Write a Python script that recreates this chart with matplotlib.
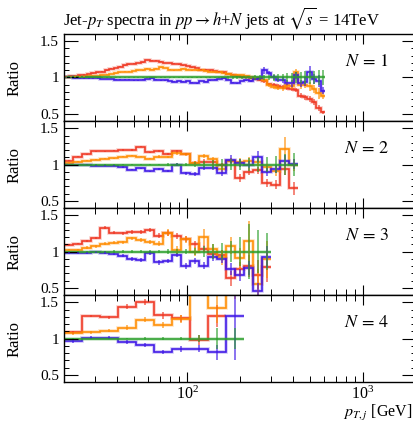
import numpy as np
import matplotlib
matplotlib.use("Agg")
import matplotlib.pyplot as plt
from matplotlib.ticker import FixedLocator, MultipleLocator, LogLocator, NullFormatter

plt.rcParams['font.family'] = ['Liberation Serif', 'DejaVu Serif']
plt.rcParams['mathtext.fontset'] = 'stix'

# binning: lowest edge in GeV, bin width in decades, number of bins per jet multiplicity
pt_min = 20.0
bin_dec = [0.0256, 0.0512, 0.0512, 0.1024]
n_bins = [58, 26, 23, 10]

# ---- N = 1 ----
red_1 = [1.01, 1.02, 1.02, 1.03, 1.04, 1.05, 1.06, 1.07, 1.08, 1.10, 1.12, 1.13, 1.15, 1.17, 1.18,
         1.19, 1.20, 1.21, 1.24, 1.23, 1.23, 1.22, 1.20, 1.20, 1.19, 1.18, 1.17, 1.16, 1.14, 1.13,
         1.11, 1.11, 1.10, 1.09, 1.08, 1.07, 1.05, 1.04, 1.02, 1.01, 1.00, 0.99, 0.98, 0.96, 0.95,
         0.91, 0.90, 0.88, 0.87, 0.86, 0.84, 0.83, 0.75, 0.73, 0.70, 0.66, 0.58, 0.52]
orange_1 = [1.00, 1.01, 1.01, 1.01, 1.01, 1.02, 1.02, 1.02, 1.03, 1.04, 1.05, 1.06, 1.07, 1.08, 1.08,
            1.09, 1.10, 1.10, 1.12, 1.11, 1.12, 1.14, 1.13, 1.11, 1.10, 1.11, 1.12, 1.11, 1.10, 1.10,
            1.10, 1.09, 1.08, 1.07, 1.07, 1.06, 1.05, 1.04, 1.04, 1.03, 1.02, 1.01, 0.99, 0.98, 0.96,
            0.90, 0.87, 0.86, 0.85, 0.89, 0.88, 1.07, 0.89, 0.90, 0.88, 0.84, 0.78, 0.75]
blue_1 = [1.00, 1.00, 0.99, 0.99, 0.99, 0.99, 0.99, 0.99, 0.98, 0.98, 0.98, 0.97, 0.97, 0.97, 0.97,
          0.96, 0.96, 0.97, 0.98, 0.99, 0.97, 0.96, 0.96, 0.95, 0.94, 0.95, 0.94, 0.95, 0.93, 0.92,
          0.95, 0.94, 0.96, 0.97, 0.98, 0.99, 0.97, 0.93, 0.92, 0.95, 0.96, 0.95, 0.98, 0.99, 1.10,
          1.06, 1.00, 0.97, 0.96, 0.93, 0.92, 1.03, 0.92, 0.94, 1.08, 0.98, 0.95, 0.82]
green_1 = [1.0] * 58
red_err_1 = [0.005] * 40 + [0.01, 0.01, 0.015, 0.015, 0.02, 0.02, 0.02, 0.025, 0.025, 0.03,
                            0.03, 0.03, 0.035, 0.035, 0.04, 0.04, 0.045, 0.02]
orange_err_1 = [0.005] * 40 + [0.01, 0.015, 0.015, 0.02, 0.02, 0.025, 0.03, 0.03, 0.035, 0.04,
                               0.04, 0.05, 0.05, 0.05, 0.06, 0.06, 0.07, 0.05]
blue_err_1 = [0.005] * 40 + [0.01, 0.015, 0.015, 0.02, 0.05, 0.03, 0.03, 0.03, 0.04, 0.04,
                             0.05, 0.05, 0.05, 0.06, 0.08, 0.07, 0.08, 0.05]
green_err_1 = [0.004] * 36 + [0.015, 0.015, 0.02, 0.02, 0.02, 0.025, 0.03, 0.03, 0.035, 0.04,
                              0.045, 0.05, 0.055, 0.06, 0.065, 0.07, 0.08, 0.085, 0.09, 0.095,
                              0.1, 0.1]

# ---- N = 2 ----
red_2 = [1.055, 1.11, 1.14, 1.18, 1.18, 1.19, 1.20, 1.20, 1.245, 1.17, 1.19, 1.14, 1.18,
         1.145, 1.02, 1.04, 1.03, 0.995, 1.055, 0.815, 0.90, 0.92, 0.745, 0.72, 0.94, 0.67]
orange_2 = [1.02, 1.04, 1.055, 1.065, 1.08, 1.085, 1.11, 1.12, 1.11, 1.08, 1.11, 1.10, 1.155,
            1.14, 1.02, 1.12, 1.08, 0.94, 1.055, 1.04, 1.055, 1.03, 0.96, 0.905, 1.22, 0.995]
blue_2 = [0.995, 0.995, 0.995, 0.985, 0.985, 0.985, 0.965, 0.93, 0.95, 0.905, 0.94, 0.905, 0.995,
          0.88, 0.865, 0.955, 0.955, 0.885, 1.065, 1.02, 0.995, 1.11, 0.895, 0.94, 1.055, 1.01]
green_2 = [1.0] * 26
red_err_2 = [0.008] * 10 + [0.015, 0.015, 0.02, 0.02, 0.03, 0.03, 0.03, 0.03, 0.04, 0.06,
                            0.05, 0.05, 0.06, 0.06, 0.09, 0.09]
orange_err_2 = [0.008] * 10 + [0.015, 0.015, 0.02, 0.02, 0.03, 0.03, 0.03, 0.04, 0.04, 0.05,
                               0.05, 0.05, 0.05, 0.07, 0.16, 0.08]
blue_err_2 = [0.008] * 10 + [0.015, 0.015, 0.02, 0.02, 0.03, 0.03, 0.03, 0.04, 0.06, 0.05,
                             0.05, 0.08, 0.06, 0.06, 0.07, 0.07]
green_err_2 = [0.005] * 10 + [0.01, 0.015, 0.02, 0.025, 0.04, 0.05, 0.06, 0.07, 0.07, 0.08,
                              0.09, 0.1, 0.1, 0.12, 0.14, 0.16]

# ---- N = 3 ----
red_3 = [1.09, 1.11, 1.145, 1.19, 1.33, 1.26, 1.25, 1.27, 1.27, 1.295, 1.22, 1.26, 1.21,
         1.17, 1.10, 1.04, 0.965, 0.95, 0.63, 0.76, 0.80, 0.68, 0.78]
orange_3 = [1.02, 1.02, 1.055, 1.07, 1.11, 1.12, 1.13, 1.18, 1.16, 1.13, 1.11, 1.26, 1.02,
            1.17, 1.00, 1.20, 1.03, 0.92, 1.08, 0.905, 1.145, 0.555, 0.89]
blue_3 = [0.98, 0.98, 0.985, 0.995, 0.985, 0.965, 0.94, 0.895, 0.88, 0.98, 0.85, 0.87, 0.95,
          0.805, 0.87, 0.805, 0.92, 0.895, 0.76, 0.68, 0.77, 0.46, 0.92]
green_3 = [1.0] * 23
red_err_3 = [0.01, 0.01, 0.015, 0.015, 0.02, 0.02, 0.02, 0.025, 0.025, 0.03, 0.03, 0.04, 0.04,
             0.04, 0.05, 0.05, 0.06, 0.07, 0.1, 0.1, 0.15, 0.2, 0.2]
orange_err_3 = [0.01, 0.01, 0.015, 0.015, 0.02, 0.02, 0.02, 0.025, 0.025, 0.03, 0.03, 0.05, 0.05,
                0.05, 0.06, 0.11, 0.08, 0.1, 0.12, 0.15, 0.28, 0.2, 0.25]
blue_err_3 = [0.01, 0.01, 0.015, 0.015, 0.02, 0.02, 0.02, 0.025, 0.025, 0.03, 0.03, 0.03, 0.03,
              0.04, 0.04, 0.05, 0.05, 0.06, 0.08, 0.08, 0.1, 0.1, 0.15]
green_err_3 = [0.005, 0.005, 0.01, 0.01, 0.01, 0.015, 0.015, 0.02, 0.02, 0.02, 0.025, 0.03, 0.03,
               0.04, 0.05, 0.07, 0.1, 0.12, 0.15, 0.2, 0.38, 0.3, 0.26]

# ---- N = 4 ----
red_4 = [1.086, 1.31, 1.295, 1.44, 1.50, 1.32, 1.28, 0.98, 1.31]
orange_4 = [1.07, 1.086, 1.11, 1.15, 1.26, 1.19, 1.27, 1.85, 1.42, 1.85]
blue_4 = [0.96, 1.01, 1.01, 0.95, 0.91, 0.81, 0.85, 0.86, 0.81, 1.31]
green_4 = [1.0] * 10
red_err_4 = [0.02, 0.02, 0.02, 0.03, 0.04, 0.05, 0.05, 0.07, 0.15]
orange_err_4 = [0.02, 0.02, 0.02, 0.03, 0.03, 0.04, 0.05, 0.2, 0.2, 0.3]
blue_err_4 = [0.02, 0.02, 0.02, 0.03, 0.03, 0.03, 0.04, 0.05, 0.1, 0.6]
green_err_4 = [0.005, 0.005, 0.01, 0.01, 0.015, 0.015, 0.02, 0.05, 0.14, 0.15]

panels = [
    (red_1, orange_1, blue_1, green_1, red_err_1, orange_err_1, blue_err_1, green_err_1),
    (red_2, orange_2, blue_2, green_2, red_err_2, orange_err_2, blue_err_2, green_err_2),
    (red_3, orange_3, blue_3, green_3, red_err_3, orange_err_3, blue_err_3, green_err_3),
    (red_4, orange_4, blue_4, green_4, red_err_4, orange_err_4, blue_err_4, green_err_4),
]
colors = ['#ef3520', '#ff8c00', '#3c14e6', '#2a9e2a']

W, H = 414, 423
fig = plt.figure(figsize=(W / 100, H / 100), dpi=100)

left, right = 64, 416
top, bottom = 34, 382
ph = (bottom - top) / 4

axes = []
for i, data in enumerate(panels):
    y0 = H - (top + (i + 1) * ph)
    ax = fig.add_axes([left / W, y0 / H, (right - left) / W, ph / H])
    axes.append(ax)

    edges_all = pt_min * 10 ** (bin_dec[i] * np.arange(n_bins[i] + 1))
    vals = data[:4]
    errs = data[4:]
    for v, e, c in zip(vals, errs, colors):
        v = np.array(v)
        e = np.array(e)
        ed = edges_all[:len(v) + 1]
        centers = np.sqrt(ed[:-1] * ed[1:])
        ax.stairs(v, ed, baseline=None, color=c, lw=2.6, alpha=0.25)
        ax.stairs(v, ed, baseline=None, color=c, lw=1.2, alpha=0.95)
        ax.errorbar(centers, v, yerr=e, fmt='none', ecolor=c, elinewidth=1.2, alpha=0.7)

    ax.set_xscale('log')
    ax.set_xlim(20, 2000)
    ax.set_ylim(0.4, 1.6)
    ax.yaxis.set_major_locator(FixedLocator([0.5, 1.0, 1.5]))
    ax.yaxis.set_minor_locator(MultipleLocator(0.1))
    ax.set_yticklabels(['0.5', '1', '1.5'])
    ax.xaxis.set_major_locator(LogLocator(base=10))
    ax.xaxis.set_minor_locator(LogLocator(base=10, subs=np.arange(2, 10)))
    ax.xaxis.set_minor_formatter(NullFormatter())
    ax.tick_params(which='both', direction='in', top=True, right=True, labelsize=11)
    ax.tick_params(axis='y', which='major', length=10, width=0.8)
    ax.tick_params(axis='y', which='minor', length=3.6, width=0.7)
    ax.tick_params(axis='x', which='major', length=7.5, width=0.8, labelsize=11.5, pad=3)
    ax.tick_params(axis='x', which='minor', length=4.3, width=0.7)
    for s in ax.spines.values():
        s.set_linewidth(1.0)
    if i < 3:
        ax.set_xticklabels([])
    ax.set_ylabel('Ratio', fontsize=12)
    ax.yaxis.set_label_coords(-0.118, 0.5)
    ax.text(0.923, 0.68, '$N\\,=\\,%d$' % (i + 1), transform=ax.transAxes,
            ha='right', va='center', fontsize=13)

fig.text(412 / W, 1 - 413 / H, '$p_{T,j}$ [GeV]', ha='right', va='center', fontsize=11.5)

fig.text(63 / W, 1 - 18 / H, 'Jet-$p_T$ spectra in $pp \\to h$+$N$ jets at $\\sqrt{s}$ = 14TeV',
         ha='left', va='center', fontsize=12)

fig.savefig('out.png', dpi=100)
